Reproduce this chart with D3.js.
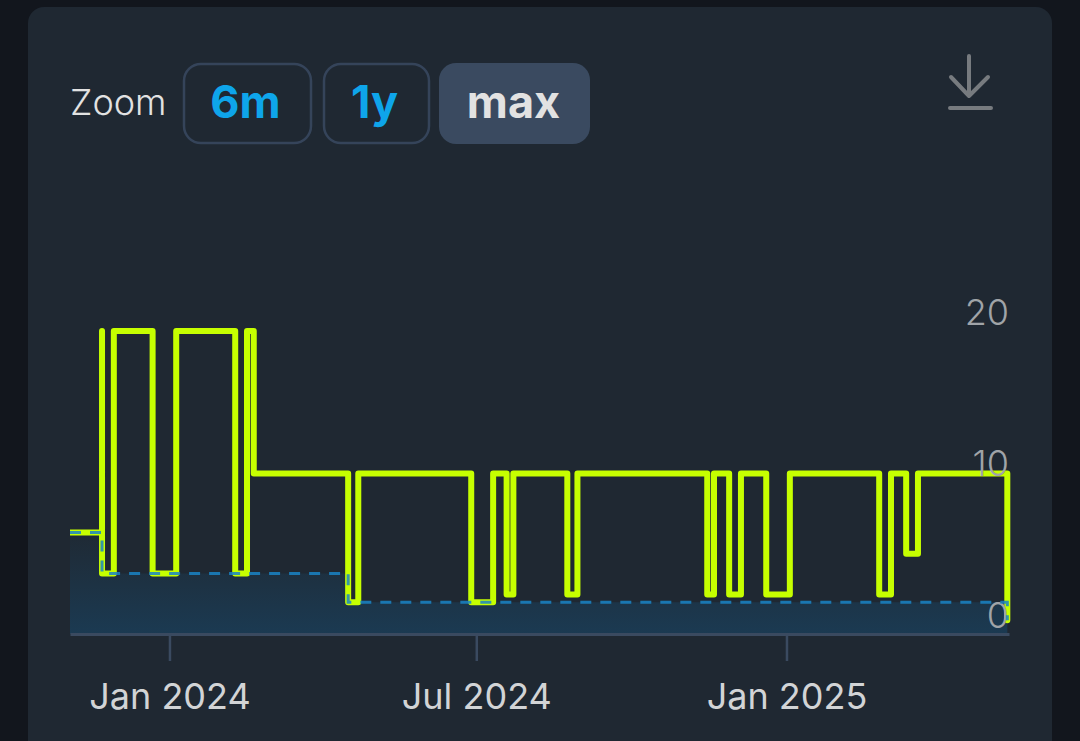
<!DOCTYPE html>
<html>
<head>
<meta charset="utf-8">
<script src="https://cdn.jsdelivr.net/npm/d3@7"></script>
<style>
html,body{margin:0;padding:0;background:#12161d;overflow:hidden}
svg{display:block;font-family:Inter,"Noto Sans",sans-serif}
</style>
</head>
<body>
<svg id="chart" width="1080" height="741"></svg>
<script>
const greenDates = ["2023-11-03","2023-11-22","2023-11-22","2023-11-29","2023-12-22","2024-01-05","2024-02-09","2024-02-16","2024-02-20","2024-04-16","2024-04-22","2024-06-28","2024-07-11","2024-07-19","2024-07-23","2024-08-24","2024-08-30","2024-11-15","2024-11-19","2024-11-28","2024-12-05","2024-12-20","2025-01-03","2025-02-25","2025-03-04","2025-03-13","2025-03-20","2025-05-12","2025-05-12"];
const greenValues = [6.7,20,4,20,4,20,4,20,10.6,2.1,10.6,2.1,10.6,2.6,10.6,2.6,10.6,2.6,10.6,2.6,10.6,2.6,10.6,2.6,10.6,5.3,10.6,10.6,0.9];
const blueDates = ["2023-11-03","2023-11-22","2024-04-16","2025-05-12","2025-05-12"];
const blueValues = [6.7,4,2.1,2.1,0.9];
const xTickDates = ["2024-01-01","2024-07-01","2025-01-01"];
const xTickLabels = ["Jan 2024","Jul 2024","Jan 2025"];
const yTicks = [0,10,20];
const zoomButtons = ["6m","1y","max"];

const parse = d3.utcParse("%Y-%m-%d");
const svg = d3.select("#chart");
const x = d3.scaleUtc().domain([parse("2023-11-03"), parse("2025-05-13")]).range([70, 1009]);
const y = d3.scaleLinear().domain([0,20]).range([634,331]);
const green = greenDates.map((d,i)=>({d:parse(d),v:greenValues[i]}));
const blue = blueDates.map((d,i)=>({d:parse(d),v:blueValues[i]}));

// card
svg.append("rect").attr("x",28).attr("y",7).attr("width",1024).attr("height",760).attr("rx",16).attr("fill","#1f2832");

// zoom controls
svg.append("text").attr("x",70).attr("y",115).attr("font-size",36).attr("font-weight",300).attr("fill","#e2e2e2").text("Zoom");
const btnBoxes = [[184,64,127,79],[324,64,105,79],[439,63,151,81]];
const g = svg.selectAll("g.btn").data(zoomButtons).join("g").attr("class","btn");
g.append("rect")
  .attr("x",(d,i)=>btnBoxes[i][0]).attr("y",(d,i)=>btnBoxes[i][1])
  .attr("width",(d,i)=>btnBoxes[i][2]).attr("height",(d,i)=>btnBoxes[i][3])
  .attr("rx",17)
  .attr("fill",(d,i)=>i===2?"#3a4a60":"none")
  .attr("stroke",(d,i)=>i===2?"none":"#35445a").attr("stroke-width",2.5);
g.append("text")
  .attr("x",(d,i)=>btnBoxes[i][0]+btnBoxes[i][2]/2-(i===2?1:2)).attr("y",118)
  .attr("text-anchor","middle").attr("font-size",45).attr("font-weight",700)
  .attr("fill",(d,i)=>i===2?"#e2e2e2":"#0ea5ea").text(d=>d);

// download icon
svg.append("path").attr("d","M969 56V96M951 77L969 96L988 77M950 108H991")
  .attr("fill","none").attr("stroke","#777b7f").attr("stroke-width",4).attr("stroke-linecap","round").attr("stroke-linejoin","round");

// clip and gradient
const defs = svg.append("defs");
defs.append("clipPath").attr("id","plotClip").append("rect").attr("x",70).attr("y",300).attr("width",945).attr("height",340);
const grad = defs.append("linearGradient").attr("id","areaGrad").attr("gradientUnits","userSpaceOnUse")
  .attr("x1",0).attr("x2",0).attr("y1",535).attr("y2",634);
grad.append("stop").attr("offset",0).attr("stop-color","#1f2a35");
grad.append("stop").attr("offset",1).attr("stop-color","#1b3a52");

svg.append("path").datum(blue)
  .attr("d",d3.area().x(d=>x(d.d)).y0(634).y1(d=>y(d.v)).curve(d3.curveStepAfter))
  .attr("fill","url(#areaGrad)");

// y axis labels
const yAxis = svg.append("g").attr("transform","translate(1009,0)")
  .call(d3.axisLeft(y).tickValues(yTicks).tickSize(0).tickPadding(0));
yAxis.select(".domain").remove();

// green line
svg.append("path").datum(green)
  .attr("clip-path","url(#plotClip)")
  .attr("d",d3.line().x(d=>x(d.d)).y(d=>y(d.v)).curve(d3.curveStepAfter))
  .attr("fill","none").attr("stroke","#c6ff00").attr("stroke-width",6)
  .attr("stroke-linejoin","round").attr("stroke-linecap","round");

yAxis.selectAll("text").attr("font-size",36).attr("font-weight",300).attr("font-family","Inter,sans-serif").attr("fill","#a0a4a8").attr("dy",0)
  .attr("y",-7);
yAxis.raise();

// blue dashed line
svg.append("path").datum(blue)
  .attr("d",d3.line().x(d=>x(d.d)).y(d=>y(d.v)).curve(d3.curveStepAfter))
  .attr("fill","none").attr("stroke","#1a84c6").attr("stroke-opacity",0.85).attr("stroke-width",3)
  .attr("stroke-dasharray","11 9");

// x axis
const xAxis = svg.append("g").attr("transform","translate(0,634)")
  .call(d3.axisBottom(x).tickValues(xTickDates.map(parse)).tickFormat((d,i)=>xTickLabels[i]).tickSize(27).tickPadding(22).tickSizeOuter(0));
xAxis.select(".domain").attr("stroke","#3a4a60").attr("stroke-width",3);
xAxis.selectAll(".tick line").attr("stroke","#3a4a60").attr("stroke-width",2.5);
xAxis.selectAll("text").attr("font-size",36).attr("font-family","Inter,sans-serif").attr("fill","#d2d4d6");
</script>
</body>
</html>
